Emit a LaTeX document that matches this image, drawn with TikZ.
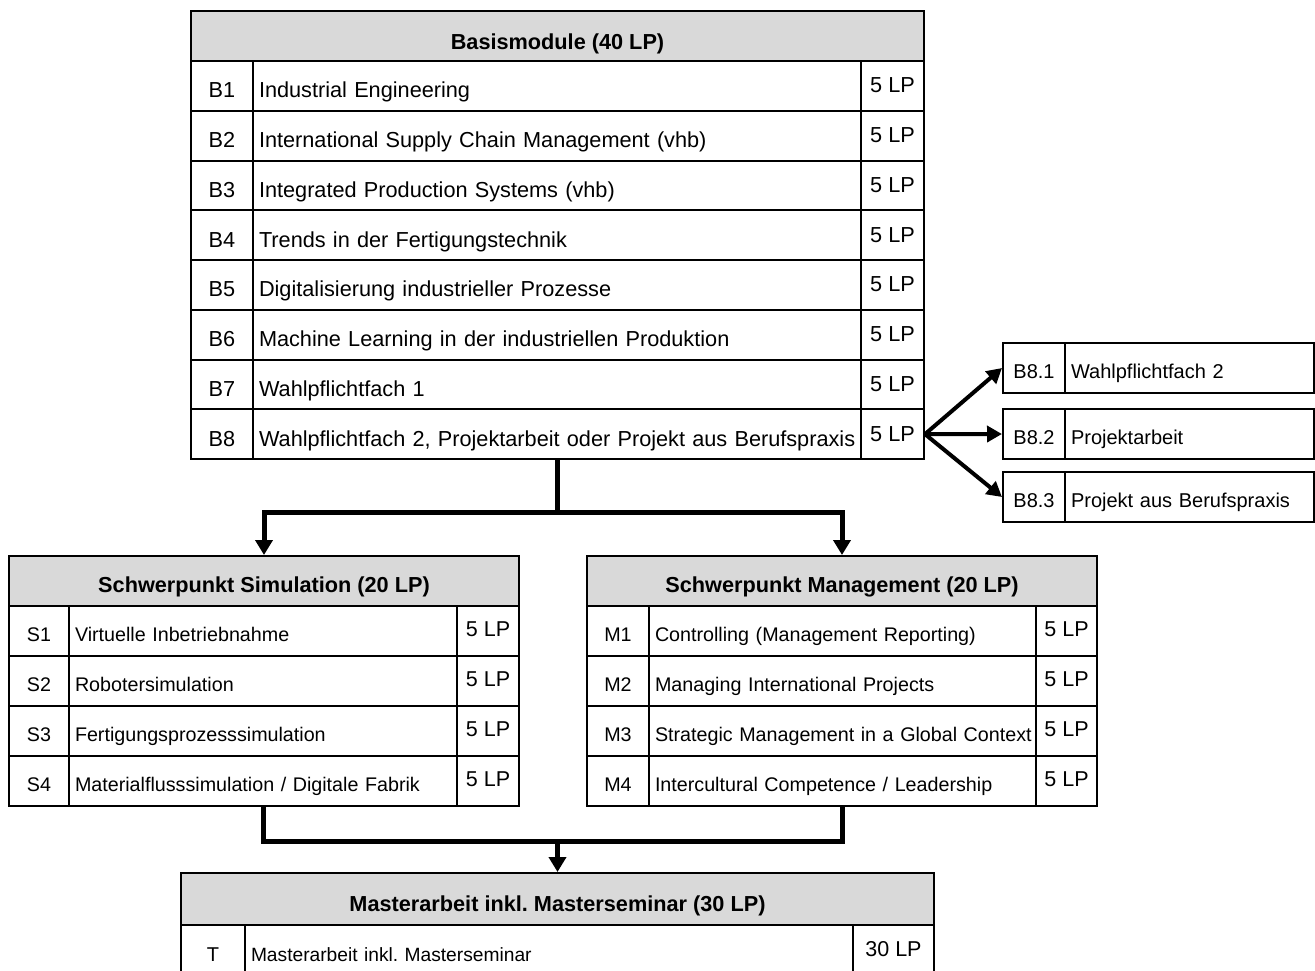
\documentclass[tikz,border=0pt]{standalone}
\usepackage{fontspec}
\setmainfont{Liberation Sans}
\usetikzlibrary{arrows.meta}

\definecolor{hdrgrey}{RGB}{217,217,217}
\newcommand{\txtsize}[1]{\fontsize{#1}{#1}\selectfont}

\tikzset{every picture/.style={line width=2pt}}
\tikzset{
  cell/.style={draw, anchor=north west, inner sep=0pt, text height=#1pt, text depth=4pt},
  hdrcell/.style={cell=#1, fill=hdrgrey, font=\txtsize{21.7}\bfseries},
  idcell/.style={cell=#1},
  namecell/.style={cell=#1, inner xsep=6pt, align=left},
  lpcell/.style={cell=#1},
  conn/.style={line width=5pt},
  flowarrow/.style={-{Triangle[length=15pt,width=17pt]}},
  optarrow/.style={line width=4pt, -{Triangle[length=15pt,width=16pt]}}
}

\begin{document}
\frenchspacing
\begin{tikzpicture}[x=1pt,y=1pt,yscale=-1]
\useasboundingbox (0,0) rectangle (1315,970);

%Shape: Table Basismodule
\node[hdrcell=30, minimum width=733pt, minimum height=50pt] (basishdr) at (190,10) {Basismodule (40 LP)};
\begin{scope}[every node/.append style={font=\txtsize{21.7}}]
\foreach \bid/\bname [count=\n] in {B1/Industrial Engineering, B2/International Supply Chain Management (vhb), B3/Integrated Production Systems (vhb), B4/Trends in der Fertigungstechnik, B5/Digitalisierung industrieller Prozesse, B6/Machine Learning in der industriellen Produktion, B7/Wahlpflichtfach 1, B8/{Wahlpflichtfach 2, Projektarbeit oder Projekt aus Berufspraxis}} {
  \pgfmathsetmacro{\y}{60+49.75*(\n-1)}
  \node[idcell=28, minimum width=62pt, minimum height=49.75pt] (bid\n) at (190,\y) {\bid};
  \node[namecell=28, text width=596pt, minimum height=49.75pt] (bt\n) at (252,\y) {\mbox{\bname}};
  \node[lpcell=18, minimum width=63pt, minimum height=49.75pt] (blp\n) at (860,\y) {5 LP};
}
\end{scope}

%Shape: Options B8
\begin{scope}[every node/.append style={font=\txtsize{20}}]
\foreach \oid/\oname/\y [count=\k] in {B8.1/Wahlpflichtfach 2/342, B8.2/Projektarbeit/408, B8.3/Projekt aus Berufspraxis/471} {
  \node[idcell=24, minimum width=62pt, minimum height=50pt] (oid\k) at (1002,\y) {\oid};
  \node[namecell=24, text width=237pt, minimum height=50pt] (ot\k) at (1064,\y) {\mbox{\oname}};
}
\end{scope}

%Shape: Table Schwerpunkt Simulation
\node[hdrcell=27, minimum width=510pt, minimum height=50pt] (simhdr) at (8,555) {Schwerpunkt Simulation (20 LP)};
\begin{scope}[every node/.append style={font=\txtsize{19.7}}]
\foreach \sid/\sname [count=\n] in {S1/Virtuelle Inbetriebnahme, S2/Robotersimulation, S3/Fertigungsprozesssimulation, S4/{Materialflusssimulation / Digitale Fabrik}} {
  \pgfmathsetmacro{\y}{605+50*(\n-1)}
  \node[idcell=24, minimum width=60pt, minimum height=50pt] (sid\n) at (8,\y) {\sid};
  \node[namecell=24, text width=376pt, minimum height=50pt] (st\n) at (68,\y) {\mbox{\sname}};
  \node[lpcell=14, minimum width=62pt, minimum height=50pt, font=\txtsize{21.5}] (slp\n) at (456,\y) {5 LP};
}
\end{scope}

%Shape: Table Schwerpunkt Management
\node[hdrcell=27, minimum width=510pt, minimum height=50pt] (mgmthdr) at (586,555) {Schwerpunkt Management (20 LP)};
\begin{scope}[every node/.append style={font=\txtsize{19.7}}]
\foreach \mid/\mname [count=\n] in {M1/Controlling (Management Reporting), M2/Managing International Projects, M3/Strategic Management in a Global Context, M4/{Intercultural Competence / Leadership}} {
  \pgfmathsetmacro{\y}{605+50*(\n-1)}
  \node[idcell=24, minimum width=62pt, minimum height=50pt] (mid\n) at (586,\y) {\mid};
  \node[namecell=24, text width=375pt, minimum height=50pt] (mt\n) at (648,\y) {\mbox{\mname}};
  \node[lpcell=14, minimum width=61pt, minimum height=50pt, font=\txtsize{21.5}] (mlp\n) at (1035,\y) {5 LP};
}
\end{scope}

%Shape: Table Masterarbeit
\node[hdrcell=28, minimum width=753pt, minimum height=52pt] (thesishdr) at (180,872) {Masterarbeit inkl. Masterseminar (30 LP)};
\node[idcell=26, minimum width=64pt, minimum height=50pt, font=\txtsize{20}] (tid) at (180,924) {T};
\node[namecell=26, text width=596pt, minimum height=50pt, font=\txtsize{19.2}] (tt) at (244,924) {Masterarbeit inkl. Masterseminar};
\node[lpcell=16, minimum width=81pt, minimum height=50pt, font=\txtsize{21.5}] (tlp) at (852,924) {30 LP};

%Straight Lines
\draw[conn] (bt8.south) -- ++(0,52) coordinate (fork);
\draw[conn, flowarrow] (fork) -| (simhdr.north);
\draw[conn, flowarrow] (fork) -| (mgmthdr.north);
\draw[conn] (st4.south) -- ++(0,34) coordinate (merge) -| (mt4.south);
\draw[conn, flowarrow] (merge -| thesishdr.north) -- (thesishdr.north);

% Arrows to B8 options
\foreach \k in {1,2,3}
  \draw[optarrow] (blp8.east) -- (oid\k.west);

\end{tikzpicture}
\end{document}
